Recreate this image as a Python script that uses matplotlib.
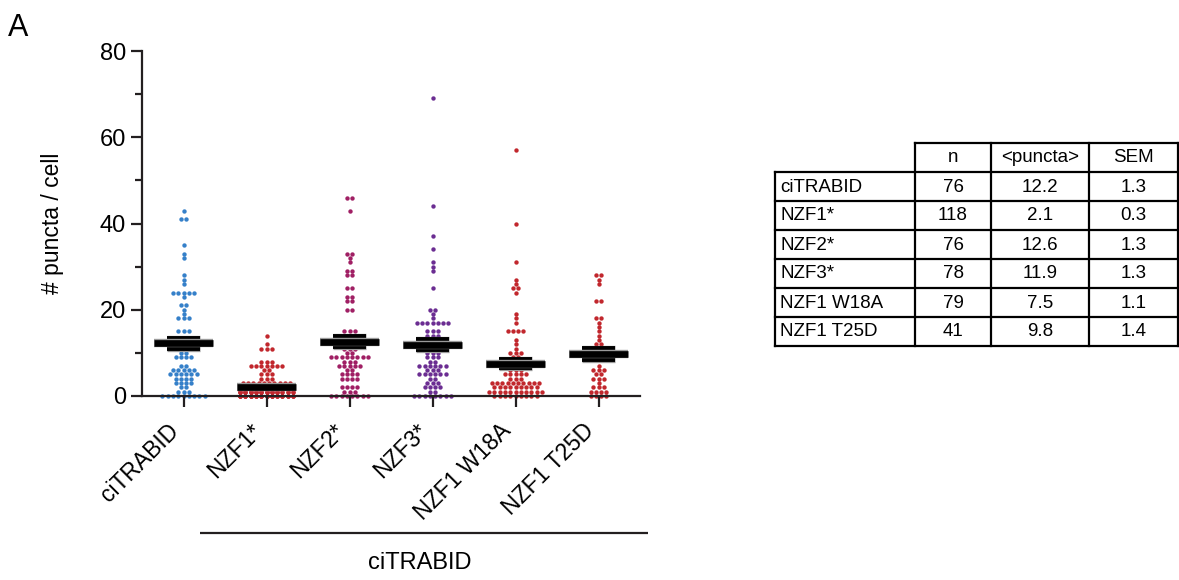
import numpy as np
import matplotlib
matplotlib.use("Agg")
import matplotlib.pyplot as plt
import matplotlib.patheffects as pe

plt.rcParams['font.family'] = ['Liberation Sans', 'DejaVu Sans']

# ---- data (value levels and how many cells at each) ----
groups = ['ciTRABID', 'NZF1*', 'NZF2*', 'NZF3*', 'NZF1 W18A', 'NZF1 T25D']
colors = ['#3580c9', '#c1272d', '#a01f64', '#6b2d92', '#c1272d', '#c1272d']

citrabid_levels = [43, 41, 35, 33, 32, 28, 27, 26, 24, 23, 21, 20, 19, 18, 15, 13, 12, 11, 10, 9, 7, 6, 5, 4, 3, 2, 1, 0]
citrabid_counts = [1, 2, 1, 1, 1, 1, 1, 1, 5, 1, 2, 1, 1, 3, 3, 3, 4, 3, 2, 4, 2, 5, 6, 4, 4, 2, 3, 9]

nzf1_levels = [14, 12, 11, 8, 7, 6, 5, 4, 3, 2, 1, 0]
nzf1_counts = [1, 1, 3, 3, 7, 2, 3, 3, 10, 15, 30, 40]

nzf2_levels = [46, 43, 33, 32, 31, 29, 28, 25, 23, 22, 20, 15, 14, 13, 12, 11, 10, 9, 8, 7, 6, 5, 4, 2, 1, 0]
nzf2_counts = [2, 1, 2, 1, 1, 2, 2, 2, 2, 2, 2, 3, 2, 3, 3, 3, 2, 8, 3, 5, 2, 4, 4, 4, 3, 8]

nzf3_levels = [69, 44, 37, 34, 31, 30, 29, 25, 20, 19, 18, 17, 15, 14, 13, 12, 11, 10, 9, 8, 7, 6, 5, 4, 3, 2, 1, 0]
nzf3_counts = [1, 1, 1, 1, 1, 1, 1, 1, 2, 1, 1, 7, 3, 3, 4, 4, 3, 3, 3, 2, 6, 3, 6, 2, 3, 4, 2, 8]

w18a_levels = [57, 40, 31, 27, 26, 25, 24, 19, 18, 17, 15, 13, 12, 11, 10, 9, 8, 7, 6, 5, 4, 3, 2, 1, 0]
w18a_counts = [1, 1, 1, 1, 1, 2, 1, 1, 1, 1, 4, 1, 1, 1, 3, 2, 3, 3, 3, 5, 3, 10, 9, 11, 9]

t25d_levels = [28, 27, 26, 22, 18, 17, 16, 15, 14, 13, 12, 11, 10, 9, 7, 6, 5, 4, 3, 2, 1, 0]
t25d_counts = [2, 1, 1, 2, 2, 1, 1, 1, 1, 1, 2, 2, 2, 1, 1, 3, 2, 3, 1, 3, 4, 4]

# table values
table_rows = ['ciTRABID', 'NZF1*', 'NZF2*', 'NZF3*', 'NZF1 W18A', 'NZF1 T25D']
table_n = [76, 118, 76, 78, 79, 41]
table_mean = [12.2, 2.1, 12.6, 11.9, 7.5, 9.8]
table_sem = [1.3, 0.3, 1.3, 1.3, 1.1, 1.4]

levels = [citrabid_levels, nzf1_levels, nzf2_levels, nzf3_levels, w18a_levels, t25d_levels]
counts = [citrabid_counts, nzf1_counts, nzf2_counts, nzf3_counts, w18a_counts, t25d_counts]

W, H = 1179, 580
fig = plt.figure(figsize=(W / 100, H / 100), dpi=100)
ax_left, ax_right, ax_bot, ax_top = 142, 640, 396, 51
ax = fig.add_axes([ax_left / W, 1 - ax_bot / H, (ax_right - ax_left) / W, (ax_bot - ax_top) / H])

step = 0.064      # horizontal dot spacing (category units)
max_slots = 11    # dots per row before they pile on top of each other

for i, (lv, ct) in enumerate(zip(levels, counts)):
    xs, ys = [], []
    for v, k in zip(lv, ct):
        slots = min(k, max_slots)
        idx = np.arange(k) % max_slots
        xs.extend(i + (idx - (slots - 1) / 2) * step)
        ys.extend([v] * k)
    ax.scatter(xs, ys, s=10, color=colors[i], linewidths=0, zorder=1, clip_on=False)

outline = [pe.Stroke(linewidth=6, foreground='#9a9a9a'), pe.Normal()]
outline_thin = [pe.Stroke(linewidth=3.8, foreground='#9a9a9a'), pe.Normal()]
for i, (m, s) in enumerate(zip(table_mean, table_sem)):
    ax.vlines(i, m - s, m + s, color='k', lw=2.2, zorder=3)
    ax.hlines([m - s, m + s], i - 0.2, i + 0.2, color='k', lw=2.8, zorder=3,
              path_effects=outline_thin)
    ax.hlines(m, i - 0.35, i + 0.35, color='k', lw=4.8, zorder=4, path_effects=outline)

ax.set_xlim(-0.5, 5.5)
ax.set_ylim(0, 80)
ax.set_yticks([0, 20, 40, 60, 80])
ax.set_yticks([10, 30, 50, 70], minor=True)
ax.set_xticks(range(len(groups)))
ax.set_xticklabels(groups, rotation=45, ha='right', fontsize=16.5)
ax.tick_params(axis='x', length=8, width=1.6, pad=9, color='#231f20')
ax.tick_params(axis='y', which='major', length=8, width=1.6, labelsize=17, color='#231f20')
ax.tick_params(axis='y', which='minor', length=5, width=1.6, color='#231f20')
ax.set_ylabel('# puncta / cell', fontsize=16.5, labelpad=26)
for side in ['top', 'right']:
    ax.spines[side].set_visible(False)
for side in ['left', 'bottom']:
    ax.spines[side].set_linewidth(1.6)
    ax.spines[side].set_color('#231f20')
    ax.spines[side].set_zorder(2.5)

# overlay in pixel coords for panel letter, bracket and table
ov = fig.add_axes([0, 0, 1, 1])
ov.set_xlim(0, W)
ov.set_ylim(H, 0)
ov.axis('off')
ov.patch.set_visible(False)

ov.text(8, 36, 'A', fontsize=22, ha='left', va='baseline')
ov.plot([200, 648], [533, 533], color='#231f20', lw=1.6, solid_capstyle='butt')
ov.text(420, 563, 'ciTRABID', fontsize=17, ha='center', va='center')

col_x = [775, 915, 991, 1089, 1178]
row_y = [143 + 29 * r for r in range(8)]
lw_t = 1.6
# header cells (no corner cell)
ov.plot([col_x[1], col_x[4]], [row_y[0], row_y[0]], color='k', lw=lw_t)
for x in col_x[1:]:
    ov.plot([x, x], [row_y[0], row_y[7]], color='k', lw=lw_t)
ov.plot([col_x[0], col_x[0]], [row_y[1], row_y[7]], color='k', lw=lw_t)
for y in row_y[1:]:
    ov.plot([col_x[0], col_x[4]], [y, y], color='k', lw=lw_t)

headers = ['n', '<puncta>', 'SEM']
for j, h in enumerate(headers):
    ov.text((col_x[j + 1] + col_x[j + 2]) / 2, row_y[0] + 15, h, fontsize=13.5,
            ha='center', va='center')
for r in range(len(table_rows)):
    yc = row_y[r + 1] + 15
    ov.text(col_x[0] + 5, yc, table_rows[r], fontsize=13.5, ha='left', va='center')
    ov.text((col_x[1] + col_x[2]) / 2, yc, str(table_n[r]), fontsize=13.5, ha='center', va='center')
    ov.text((col_x[2] + col_x[3]) / 2, yc, f'{table_mean[r]:.1f}', fontsize=13.5, ha='center', va='center')
    ov.text((col_x[3] + col_x[4]) / 2, yc, f'{table_sem[r]:.1f}', fontsize=13.5, ha='center', va='center')

fig.savefig('out.png', dpi=100)
